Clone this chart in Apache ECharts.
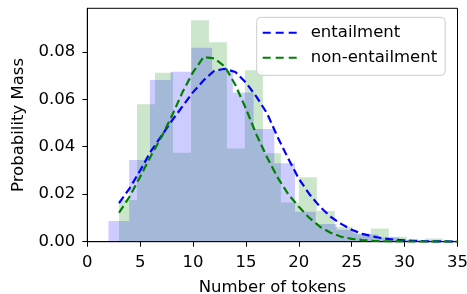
<!DOCTYPE html>
<html>
<head>
<meta charset="utf-8">
<script src="https://cdn.jsdelivr.net/npm/echarts@6/dist/echarts.min.js"></script>
<style>
  html, body { margin: 0; padding: 0; background: #fff; }
  #chartsmain { width: 467px; height: 294px; }
</style>
</head>
<body>
<div id="chartsmain"></div>
<script>
    // histogram bins (density)
    var blueEdges = [2.00, 3.96, 5.92, 7.88, 9.84, 11.80, 13.76, 15.72, 17.68, 19.64, 21.60, 23.56, 25.52, 27.48, 29.44, 31.40, 33.36, 35.32];
    var blueHeights = [0.0087, 0.0344, 0.0681, 0.0716, 0.0817, 0.0719, 0.0628, 0.0475, 0.0330, 0.0126, 0.0075, 0.0050, 0.0030, 0.0018, 0.0008, 0.0004, 0.0002];

    var greenEdges = [3.0, 4.7, 6.4, 8.1, 9.8, 11.5, 13.2, 14.9, 16.6, 18.3, 20.0, 21.7, 23.4, 25.1, 26.8, 28.5, 30.2, 31.9, 33.6, 35.3];
    var greenHeights = [0.0176, 0.0579, 0.0712, 0.0375, 0.0933, 0.0840, 0.0393, 0.0722, 0.0372, 0.0165, 0.0271, 0.0129, 0.0062, 0.0035, 0.0056, 0.0021, 0.0004, 0.0014, 0.0003];

    // fitted curves, sampled at whole token counts
    var tokens = [3, 4, 5, 6, 7, 8, 9, 10, 11, 12, 13, 14, 15, 16, 17, 18, 19, 20, 21, 22, 23, 24, 25, 26, 27, 28, 29, 30, 31, 32, 33, 34, 35];
    var entailment = [0.0162, 0.0225, 0.0300, 0.0380, 0.0445, 0.0510, 0.0570, 0.0630, 0.0680, 0.0720, 0.0728, 0.0715, 0.0670, 0.0610, 0.0540, 0.0440, 0.0350, 0.0265, 0.0200, 0.0147, 0.0105, 0.0075, 0.0050, 0.0033, 0.0022, 0.0014, 0.0009, 0.0006, 0.0004, 0.0002, 0.0001, 0.0001, 0.0000];
    var nonEntailment = [0.0122, 0.0190, 0.0274, 0.0360, 0.0440, 0.0530, 0.0630, 0.0714, 0.0778, 0.0772, 0.0738, 0.0660, 0.0560, 0.0450, 0.0355, 0.0270, 0.0200, 0.0147, 0.0100, 0.0063, 0.0038, 0.0021, 0.0012, 0.0007, 0.0004, 0.0002, 0.0001, 0.0001, 0, 0, 0, 0, 0];

    var yTicks = [0, 0.02, 0.04, 0.06, 0.08];
    var FONT = 'DejaVu Sans';
    var DASH_ICON = 'path://M0,0h8v2h-8z M13,0h8v2h-8z M26,0h8v2h-8z';

    function binData(edges, heights) {
        var out = [];
        for (var i = 0; i < heights.length; i++) {
            out.push([edges[i], edges[i + 1], heights[i]]);
        }
        return out;
    }
    function pairs(xs, ys) {
        var out = [];
        for (var i = 0; i < xs.length; i++) out.push([xs[i], ys[i]]);
        return out;
    }
    function barRender(color) {
        return function (params, api) {
            var p0 = api.coord([api.value(0), api.value(2)]);
            var p1 = api.coord([api.value(1), 0]);
            return {
                type: 'rect',
                shape: { x: p0[0], y: p0[1], width: p1[0] - p0[0], height: p1[1] - p0[1] },
                style: { fill: color }
            };
        };
    }

    var chart = echarts.init(document.getElementById('chartsmain'));

    var option = {
        animation: false,
        grid: {
            left: 87.3, right: 9.5, top: 8.3, bottom: 52.3,
            outerBoundsMode: 'none', containLabel: false,
            show: true, borderColor: '#000', borderWidth: 1, backgroundColor: 'transparent'
        },
        legend: {
            orient: 'vertical',
            left: 256.7, top: 17.3,
            padding: [7, 8, 9, 6],
            itemGap: 8,
            itemWidth: 34, itemHeight: 2.2,
            backgroundColor: 'rgba(255,255,255,0.8)',
            borderColor: '#cccccc', borderWidth: 1, borderRadius: 4,
            data: [
                { name: 'entailment', icon: DASH_ICON },
                { name: 'non-entailment', icon: DASH_ICON }
            ],
            textStyle: { fontFamily: FONT, fontSize: 16.5, color: '#000', padding: [0, 0, 0, 9] }
        },
        xAxis: {
            type: 'value', min: 0, max: 35, interval: 5,
            name: 'Number of tokens', nameLocation: 'middle', nameGap: 38,
            nameTextStyle: { fontFamily: FONT, fontSize: 16.5, color: '#000' },
            axisLine: { show: true, onZero: false, lineStyle: { color: '#000', width: 1 } },
            axisTick: { show: true, length: 5, lineStyle: { color: '#000', width: 1 } },
            axisLabel: { fontFamily: FONT, fontSize: 16.5, color: '#000', margin: 13 },
            splitLine: { show: false }
        },
        yAxis: {
            type: 'value', min: 0, max: 0.0983,
            name: 'Probability Mass', nameLocation: 'middle', nameGap: 57,
            nameTextStyle: { fontFamily: FONT, fontSize: 16.5, color: '#000' },
            axisLine: { show: true, onZero: false, lineStyle: { color: '#000', width: 1 } },
            axisTick: { show: true, length: 5, customValues: yTicks, lineStyle: { color: '#000', width: 1 } },
            axisLabel: {
                fontFamily: FONT, fontSize: 16.5, color: '#000', margin: 12,
                customValues: yTicks,
                formatter: function (v) { return v.toFixed(2); }
            },
            splitLine: { show: false }
        },
        series: [
            {
                name: 'non-entailment hist', type: 'custom', clip: true,
                renderItem: barRender('rgba(0,128,0,0.2)'),
                encode: { x: [0, 1], y: 2 },
                data: binData(greenEdges, greenHeights), z: 1
            },
            {
                name: 'entailment hist', type: 'custom', clip: true,
                renderItem: barRender('rgba(0,0,255,0.2)'),
                encode: { x: [0, 1], y: 2 },
                data: binData(blueEdges, blueHeights), z: 2
            },
            {
                name: 'entailment', type: 'line', symbol: 'none', z: 3,
                lineStyle: { color: '#0000ff', width: 2.2, type: [8, 4] },
                itemStyle: { color: '#0000ff' },
                data: pairs(tokens, entailment)
            },
            {
                name: 'non-entailment', type: 'line', symbol: 'none', z: 4,
                lineStyle: { color: '#008000', width: 2.2, type: [8, 4] },
                itemStyle: { color: '#008000' },
                data: pairs(tokens, nonEntailment)
            }
        ]
    };
    chart.setOption(option);
</script>
</body>
</html>
